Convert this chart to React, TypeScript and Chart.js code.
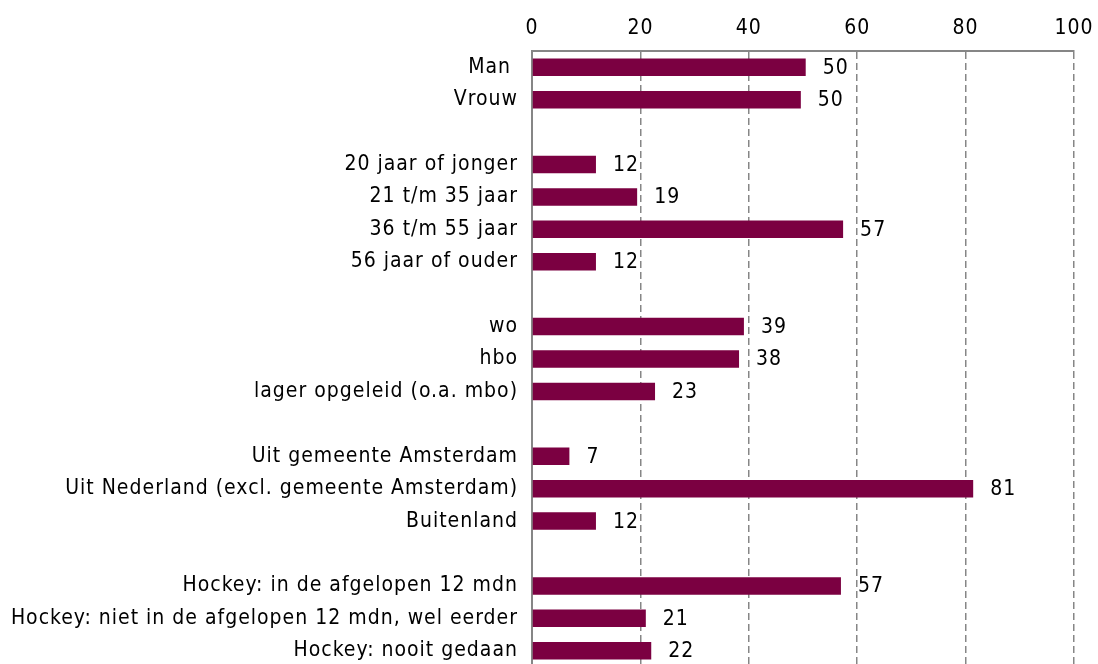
import { useEffect, useRef } from "react";
import { Chart, registerables } from "chart.js";
Chart.register(...registerables);

const categories = [
  "Man ",
  "Vrouw",
  "",
  "20 jaar of jonger",
  "21 t/m 35 jaar",
  "36 t/m 55 jaar",
  "56 jaar of ouder",
  "",
  "wo",
  "hbo",
  "lager opgeleid (o.a. mbo)",
  "",
  "Uit gemeente Amsterdam",
  "Uit Nederland (excl. gemeente Amsterdam)",
  "Buitenland",
  "",
  "Hockey: in de afgelopen 12 mdn",
  "Hockey: niet in de afgelopen 12 mdn, wel eerder",
  "Hockey: nooit gedaan",
];
const values = [50.5, 49.6, null, 11.8, 19.4, 57.4, 11.8, null, 39.1, 38.2, 22.7, null, 6.9, 81.4, 11.8, null, 57.0, 21.0, 22.0];
const valueLabels = ["50", "50", "", "12", "19", "57", "12", "", "39", "38", "23", "", "7", "81", "12", "", "57", "21", "22"];
const xTicks = [0, 20, 40, 60, 80, 100];

const FONT = "'DejaVu Sans Condensed', 'DejaVu Sans', sans-serif";
const FONT_SIZE = 21;
const SPACING = "1px";

export default function App() {
  const ref = useRef<HTMLCanvasElement | null>(null);
  useEffect(() => {
    document.documentElement.style.overflow = "hidden";
    document.body.style.overflow = "hidden";
    document.body.style.margin = "0";
    const canvas = ref.current!;
    const setSpacing = (chart: any) => {
      try {
        (chart.ctx as any).letterSpacing = SPACING;
      } catch (e) {}
    };
    const spacingPlugin = {
      id: "spacing",
      afterInit: setSpacing,
      beforeUpdate: setSpacing,
      beforeLayout: setSpacing,
      beforeDraw: setSpacing,
    };
    const labelPlugin = {
      id: "valueLabels",
      afterDatasetsDraw(chart: any) {
        const ctx = chart.ctx;
        const meta = chart.getDatasetMeta(0);
        ctx.save();
        (ctx as any).letterSpacing = SPACING;
        ctx.font = `${FONT_SIZE}px ${FONT}`;
        ctx.fillStyle = "#000";
        ctx.textAlign = "left";
        ctx.textBaseline = "middle";
        meta.data.forEach((bar: any, i: number) => {
          if (values[i] == null) return;
          ctx.fillText(valueLabels[i], bar.x + 17, bar.y + 1);
        });
        ctx.restore();
      },
    };
    const chart = new Chart(canvas, {
      type: "bar",
      data: {
        labels: categories,
        datasets: [
          {
            data: values as any,
            backgroundColor: "#7B0041",
            borderWidth: 0,
            barPercentage: 0.54,
            categoryPercentage: 1,
          },
        ],
      },
      options: {
        indexAxis: "y",
        responsive: false,
        animation: false,
        layout: { padding: { left: 0, right: 24, top: 0, bottom: 5 } },
        plugins: { legend: { display: false }, tooltip: { enabled: false } },
        scales: {
          x: {
            position: "top",
            min: 0,
            max: 100,
            afterBuildTicks(scale: any) {
              scale.ticks = xTicks.map((v) => ({ value: v }));
            },
            afterFit(scale: any) {
              scale.height = 51;
              scale.paddingLeft = 0;
              scale.paddingRight = 0;
            },
            ticks: {
              color: "#000",
              font: { family: FONT, size: FONT_SIZE, lineHeight: 1.2 },
              padding: 10,
              maxRotation: 0,
            },
            grid: {
              color: "#868686",
              lineWidth: 1.5,
              drawTicks: false,
            },
            border: { display: true, color: "#868686", width: 2, dash: [7, 4] },
          },
          y: {
            afterFit(scale: any) {
              scale.width = 532;
              scale.paddingTop = 0;
              scale.paddingBottom = 0;
            },
            ticks: {
              color: "#000",
              font: { family: FONT, size: FONT_SIZE },
              padding: 14,
              autoSkip: false,
            },
            grid: { display: false, drawTicks: false },
            border: { display: true, color: "#868686", width: 2 },
          },
        },
      } as any,
      plugins: [spacingPlugin, labelPlugin],
    });
    return () => chart.destroy();
  }, []);
  return (
    <div style={{ position: "absolute", left: 0, top: 0, width: 1098, height: 672 }}>
      <canvas ref={ref} width={1098} height={672} style={{ display: "block" }} />
    </div>
  );
}
